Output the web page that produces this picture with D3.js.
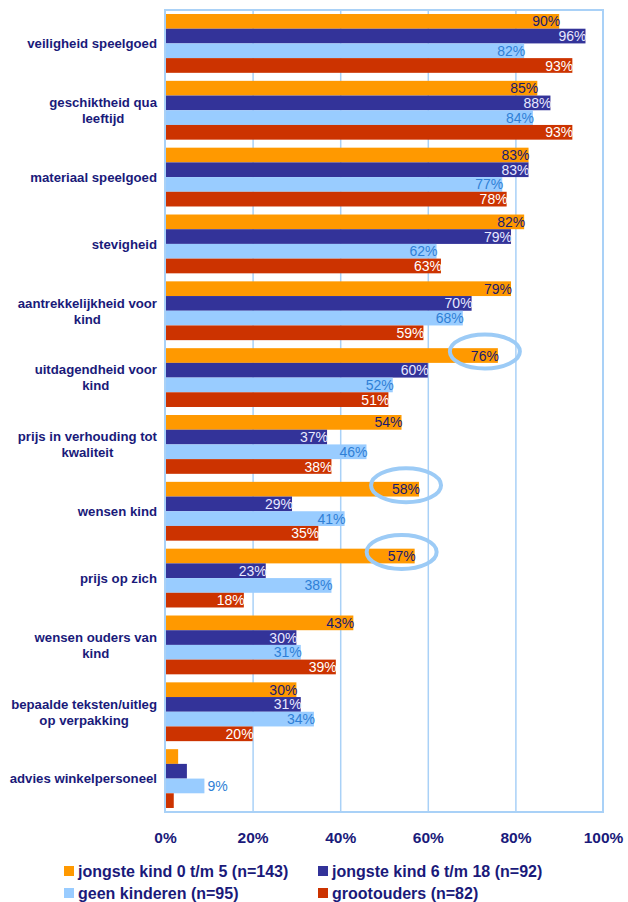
<!DOCTYPE html>
<html>
<head>
<meta charset="utf-8">
<script src="https://cdn.jsdelivr.net/npm/d3@7"></script>
<style>
  body { margin: 0; background: #fff; }
  svg { display: block; font-family: "Liberation Sans", Arial, sans-serif; }
</style>
</head>
<body>
<svg id="chart" width="628" height="902"></svg>
<script>
// categories, top to bottom (\n = line break in the label)
const categories = [
    "veiligheid speelgoed",
    "geschiktheid qua\nleeftijd",
    "materiaal speelgoed",
    "stevigheid",
    "aantrekkelijkheid voor\nkind",
    "uitdagendheid voor\nkind",
    "prijs in verhouding tot\nkwaliteit",
    "wensen kind",
    "prijs op zich",
    "wensen ouders van\nkind",
    "bepaalde teksten/uitleg\nop verpakking",
    "advies winkelpersoneel"
];

const seriesNames = [
    "jongste kind 0 t/m 5 (n=143)",
    "jongste kind 6 t/m 18 (n=92)",
    "geen kinderen (n=95)",
    "grootouders (n=82)"
];

// percentages per series, same order as categories
const jongste05 = [90, 85, 83, 82, 79, 76, 54, 58, 57, 43, 30, 3];
const jongste618 = [96, 88, 83, 79, 70, 60, 37, 29, 23, 30, 31, 5];
const geenKinderen = [82, 84, 77, 62, 68, 52, 46, 41, 38, 31, 34, 9];
const grootouders = [93, 93, 78, 63, 59, 51, 38, 35, 18, 39, 20, 2];

// which values are shown with a label (small bars have none)
const minLabelled = 9;

const xTicks = [0, 0.2, 0.4, 0.6, 0.8, 1];

// circled values: [category index, series index]
const highlights = [[5, 0], [7, 0], [8, 0]];

const colors = ["#ff9900", "#333399", "#99ccff", "#cc3300"];
const labelColors = ["#1a1a6e", "#e8e8ff", "#2f7fd6", "#ffffff"];
const navy = "#1a1a7a";
const gridColor = "#a9d1f7";

const svg = d3.select("#chart");
const plotL = 165, plotR = 603, plotT = 10, plotB = 812;

const x = d3.scaleLinear().domain([0, 100]).range([plotL, plotR]);
const y = d3.scaleBand()
    .domain(d3.range(categories.length))
    .range([plotT, plotB])
    .paddingInner(0.12)
    .paddingOuter(0.06);
const ySub = d3.scaleBand()
    .domain(d3.range(seriesNames.length))
    .range([0, y.bandwidth()]);

const allSeries = [jongste05, jongste618, geenKinderen, grootouders];
const rows = [];
allSeries.forEach((vals, s) => vals.forEach((v, c) => rows.push({c, s, v})));

// gridlines
svg.append("g")
    .attr("class", "grid")
    .attr("transform", `translate(0,${plotB})`)
    .call(d3.axisBottom(x).tickValues([20, 40, 60, 80]).tickSize(-(plotB - plotT)).tickFormat(""))
    .call(g => g.select(".domain").remove())
    .call(g => g.selectAll("line").attr("stroke", gridColor).attr("stroke-width", 1.5));

// bars
svg.append("g")
    .selectAll("rect")
    .data(rows)
    .join("rect")
    .attr("x", x(0))
    .attr("y", d => y(d.c) + ySub(d.s))
    .attr("width", d => x(d.v) - x(0))
    .attr("height", ySub.bandwidth())
    .attr("fill", d => colors[d.s]);

// plot border
svg.append("rect")
    .attr("x", plotL)
    .attr("y", plotT)
    .attr("width", plotR - plotL)
    .attr("height", plotB - plotT)
    .attr("fill", "none")
    .attr("stroke", gridColor)
    .attr("stroke-width", 2);

// value labels
svg.append("g")
    .selectAll("text")
    .data(rows.filter(d => d.v >= minLabelled))
    .join("text")
    .attr("x", d => d.v > 12 ? x(d.v) + 1 : x(d.v) + 3)
    .attr("y", d => y(d.c) + ySub(d.s) + ySub.bandwidth() / 2)
    .attr("dy", "0.36em")
    .attr("text-anchor", d => d.v > 12 ? "end" : "start")
    .attr("font-size", 14)
    .attr("fill", d => labelColors[d.s])
    .text(d => d.v + "%");

// highlight ellipses
svg.append("g")
    .selectAll("ellipse")
    .data(highlights)
    .join("ellipse")
    .attr("cx", d => x(allSeries[d[1]][d[0]]) - 13)
    .attr("cy", d => y(d[0]) + ySub(d[1]) + ySub.bandwidth() / 2 - 4)
    .attr("rx", 35)
    .attr("ry", 17)
    .attr("fill", "none")
    .attr("stroke", "#9ccbf6")
    .attr("stroke-width", 4);

// category labels
const catG = svg.append("g")
    .selectAll("g")
    .data(categories)
    .join("g");
catG.each(function(label, i) {
    const lines = label.split("\n");
    const g = d3.select(this);
    const t = g.append("text")
        .attr("font-size", 13.2)
        .attr("font-weight", "bold")
        .attr("fill", navy)
        .attr("text-anchor", "middle");
    const lh = 16;
    const cy = y(i) + y.bandwidth() / 2 - (lines.length - 1) * lh / 2;
    lines.forEach((ln, k) => {
        t.append("tspan").attr("x", 0).attr("y", cy + k * lh).attr("dy", "0.36em").text(ln);
    });
    let w = 0;
    t.selectAll("tspan").each(function() { w = Math.max(w, this.getComputedTextLength()); });
    t.selectAll("tspan").attr("x", 157 - w / 2);
});

// x axis labels
svg.append("g")
    .attr("transform", `translate(0,${plotB})`)
    .call(d3.axisBottom(x).tickValues(xTicks.map(d => d * 100)).tickSize(0).tickPadding(20)
        .tickFormat(d => d + "%"))
    .call(g => g.select(".domain").remove())
    .call(g => g.selectAll("text")
        .attr("font-size", 15.5)
        .attr("font-weight", "bold")
        .attr("font-family", "Liberation Sans, Arial, sans-serif")
        .attr("fill", navy));

// legend
const legendPos = [[64, 871], [318, 871], [64, 893], [318, 893]];
const leg = svg.append("g")
    .selectAll("g")
    .data(seriesNames)
    .join("g")
    .attr("transform", (d, i) => `translate(${legendPos[i][0]},${legendPos[i][1]})`);
leg.append("rect")
    .attr("x", 0).attr("y", -5)
    .attr("width", 10).attr("height", 10)
    .attr("fill", (d, i) => colors[i]);
leg.append("text")
    .attr("x", 14)
    .attr("dy", "0.36em")
    .attr("font-size", 16)
    .attr("font-weight", "bold")
    .attr("fill", navy)
    .text(d => d);
</script>
</body>
</html>
